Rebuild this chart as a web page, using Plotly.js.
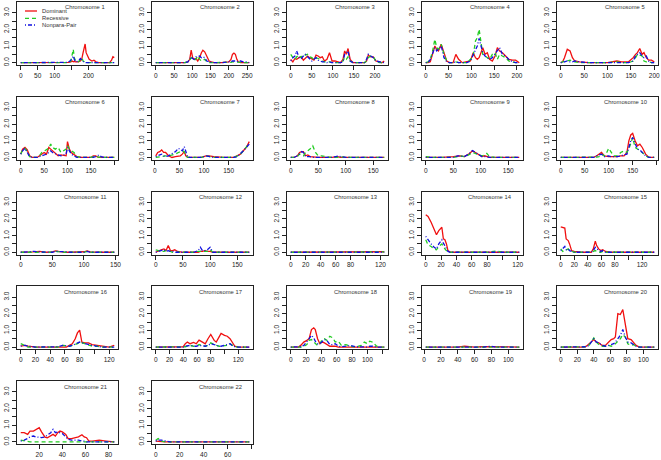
<!DOCTYPE html>
<html><head><meta charset="utf-8">
<script src="https://cdn.plot.ly/plotly-3.0.1.min.js"></script>
<style>html,body{margin:0;padding:0;background:#fff}#chart{width:661px;height:460px}</style>
</head><body><div id="chart"></div>
<script>
const seriesNames = ["Dominant", "Recessive", "Nonpara-Pair"];

const pos1 = [0,20,40,60,80,100,120,140,148,152,155,158,162,170,176,180,184,187,190,193,197,202,210,216,222,230,250,262,268,272,276];
const dom1 = [0,0,0,0,0,0,0,0.02,0.05,0.1,0.05,0.08,0.05,0.05,0.1,0.2,0.6,1.0,1.12,0.6,0.45,0.2,0.1,0.15,0.05,0,0,0,0.15,0.35,0.3];
const rec1 = [0,0,0,0,0,0,0,0,0.1,0.5,0.8,0.3,0.1,0.05,0.2,0.3,0.1,0.05,0,0,0,0,0,0,0,0,0,0,0,0,0];
const npp1 = [0,0,0.02,0,0,0.02,0,0.02,0.15,0.3,0.4,0.2,0.05,0.1,0.25,0.15,0.05,0.02,0,0.02,0,0,0,0,0,0,0,0,0,0,0];

const pos2 = [0,20,40,60,80,88,93,97,101,105,110,115,120,125,129,134,140,146,152,160,180,200,206,210,214,218,222,226,232,240,248,256];
const dom2 = [0,0,0,0,0,0.05,0.2,0.75,0.3,0.2,0.25,0.1,0.3,0.6,0.75,0.65,0.4,0.1,0.05,0,0,0.05,0.2,0.5,0.57,0.5,0.2,0.05,0,0,0,0];
const rec2 = [0,0,0,0,0,0.05,0.15,0.3,0.25,0.15,0.2,0.4,0.2,0.1,0.15,0.2,0.05,0,0,0,0,0,0.02,0.05,0.05,0.05,0.05,0.03,0.02,0,0,0];
const npp2 = [0,0,0.03,0,0,0.05,0.2,0.35,0.25,0.2,0.35,0.35,0.4,0.3,0.35,0.3,0.1,0.05,0.02,0,0,0.05,0.05,0.1,0.1,0.1,0.05,0.1,0.1,0.05,0.05,0];

const pos3 = [0,5,10,14,20,25,30,35,40,45,50,55,60,65,70,75,80,86,92,98,105,112,118,124,128,132,136,141,148,160,175,180,184,190,196,202,210,216,222];
const dom3 = [0.2,0.05,0.25,0.2,0.3,0.35,0.15,0.3,0.4,0.3,0.2,0.15,0.45,0.4,0.3,0.35,0.1,0.2,0.6,0.1,0.1,0.05,0,0.2,0.7,0.5,0.85,0.2,0,0,0,0.1,0.45,0.35,0.35,0.1,0.05,0,0.1];
const rec3 = [0.5,0.3,0.2,0.35,0.45,0.3,0.5,0.45,0.5,0.35,0.3,0.2,0.3,0.25,0.2,0.1,0.05,0.05,0.05,0,0,0,0,0.1,0.3,0.2,0.35,0.1,0,0,0,0.1,0.3,0.4,0.35,0.1,0,0,0];
const npp3 = [0.1,0.3,0.4,0.7,0.3,0.25,0.4,0.5,0.35,0.2,0.1,0.2,0.3,0.15,0.1,0.05,0.05,0,0.05,0,0,0,0,0.05,0.5,0.6,0.7,0.1,0,0,0,0.2,0.5,0.4,0.3,0.1,0.05,0,0];

const pos4 = [0,5,10,15,20,24,28,34,40,46,52,60,66,72,80,90,98,104,109,113,117,121,125,130,135,140,146,152,157,162,168,175,182,190,197,205];
const dom4 = [0,0,0.05,0.5,1.0,0.8,0.7,1.1,0.6,0.1,0,0,0.5,0.2,0,0.05,0.1,0.6,0.3,0.2,0.3,0.6,0.9,0.5,0.6,0.2,0.1,0.4,0.9,0.7,0.6,0.4,0.2,0.15,0.15,0];
const rec4 = [0,0.05,0.2,0.7,1.4,0.9,0.8,1.1,0.5,0.1,0,0,0.05,0,0,0,0.2,0.4,1.3,1.5,2.0,1.2,0.5,0.4,0.3,0.2,0.5,0.6,0.2,0.5,0.4,0.3,0.1,0.05,0,0];
const npp4 = [0,0,0.2,0.6,0.9,0.7,0.8,1.0,0.3,0.05,0,0,0.05,0,0,0,0.1,0.5,0.8,1.0,1.45,1.0,0.6,0.4,0.3,0.2,0.3,0.5,0.7,0.9,0.5,0.4,0.2,0.05,0,0];

const pos5 = [0,4,8,14,20,25,30,40,60,80,100,120,130,145,155,160,164,169,174,178,183,188,194,200];
const dom5 = [0,0.05,0.3,0.8,0.7,0.3,0.1,0.05,0,0,0,0.1,0.05,0.05,0.3,0.5,0.6,0.85,0.5,0.6,0.3,0.15,0.15,0.05];
const rec5 = [0,0.05,0.1,0.1,0.15,0.1,0.05,0,0,0,0,0.05,0,0,0.1,0.3,0.5,0.45,0.4,0.1,0.05,0.05,0,0];
const npp5 = [0,0,0.05,0.1,0.05,0.05,0.1,0.05,0,0,0,0,0,0,0.1,0.4,0.5,0.6,0.4,0.3,0.4,0.1,0,0];

const pos6 = [0,4,9,14,19,25,35,40,45,50,55,60,64,68,74,80,86,92,97,100,104,108,114,120,130,150,155,160,167,172,180,190,200];
const dom6 = [0.2,0.5,0.6,0.45,0.1,0,0,0.1,0.15,0.3,0.2,0.6,0.5,0.4,0.2,0.1,0.15,0.1,0.1,0.95,0.5,0.3,0.2,0.05,0,0,0.1,0.1,0,0,0,0,0];
const rec6 = [0.2,0.45,0.55,0.35,0.05,0,0,0.1,0.3,0.4,0.5,0.55,0.8,0.6,0.5,0.6,0.3,0.4,0.5,0.7,0.5,0.4,0.3,0.05,0,0,0.05,0.05,0,0,0,0,0];
const npp6 = [0.2,0.4,0.55,0.3,0.05,0,0,0.05,0.1,0.15,0.2,0.3,0.4,0.3,0.2,0.15,0.1,0.15,0.2,0.6,0.4,0.2,0.1,0,0,0,0,0.05,0.15,0.05,0,0,0];

const pos7 = [2,6,10,14,18,22,28,35,42,48,52,56,60,63,67,80,95,104,110,120,140,160,168,174,180,186,192];
const dom7 = [0.1,0.3,0.35,0.45,0.3,0.3,0.1,0,0.05,0.1,0.1,0.2,0.35,0.1,0,0,0,0.1,0.1,0.05,0,0,0.1,0.2,0.4,0.6,0.95];
const rec7 = [0,0.02,0.05,0.05,0.1,0.1,0.1,0.15,0.2,0.3,0.35,0.4,0.35,0.1,0,0,0,0.1,0.05,0,0,0,0.1,0.2,0.4,0.65,0.85];
const npp7 = [0.05,0.1,0.15,0.2,0.1,0.05,0.1,0.2,0.35,0.55,0.45,0.4,0.65,0.3,0,0,0,0.1,0.05,0,0,0,0.05,0.2,0.4,0.6,0.8];

const pos8 = [0,6,12,16,20,23,27,31,35,40,45,50,56,65,75,85,90,100,120,140,160,170];
const dom8 = [0,0,0.1,0.3,0.35,0.35,0.1,0.15,0.05,0.05,0.02,0,0,0,0,0.05,0,0,0,0,0,0];
const rec8 = [0,0,0.05,0.2,0.15,0.1,0.3,0.4,0.5,0.7,0.3,0.1,0.1,0.05,0,0,0.05,0,0,0,0,0];
const npp8 = [0,0,0.1,0.2,0.35,0.3,0.05,0.05,0.05,0,0,0,0,0,0,0.08,0.05,0,0,0,0,0];

const pos9 = [0,10,30,50,58,62,70,78,85,90,96,102,107,111,116,125,140,155,170];
const dom9 = [0,0,0,0.05,0.1,0.1,0.05,0.2,0.4,0.3,0.15,0.05,0.1,0.05,0,0,0,0,0];
const rec9 = [0.05,0,0,0,0.05,0.1,0.05,0.15,0.3,0.25,0.2,0.1,0.15,0.25,0.05,0,0,0,0];
const npp9 = [0,0,0,0,0.1,0.1,0.05,0.2,0.42,0.3,0.15,0.05,0.05,0.05,0,0,0,0.02,0];

const pos10 = [0,20,40,60,68,75,80,85,91,96,100,105,110,118,125,132,138,142,146,150,155,160,165,170,177,184,195];
const dom10 = [0,0,0,0,0,0.1,0.2,0.3,0.1,0.05,0.05,0.05,0.05,0.05,0.1,0.1,0.3,1.0,1.35,1.45,1.0,0.7,0.8,0.6,0.2,0,0];
const rec10 = [0,0,0,0,0,0.02,0.05,0.2,0.1,0.3,0.55,0.3,0.1,0.1,0.3,0.4,0.3,0.5,0.9,1.2,0.6,0.5,0.35,0.3,0.1,0,0];
const npp10 = [0,0,0,0,0,0.1,0.15,0.2,0.05,0.1,0.1,0.05,0.05,0.05,0.1,0.15,0.2,0.6,1.0,1.2,0.9,0.5,0.45,0.3,0.1,0,0];

const pos11 = [0,10,20,30,40,50,55,60,70,80,90,100,105,110,120,130,140,148];
const dom11 = [0,0,0.02,0.05,0,0.02,0.08,0.05,0,0,0,0.03,0.08,0.02,0,0,0,0];
const rec11 = [0,0,0,0.03,0,0,0.05,0.02,0,0,0,0,0.05,0,0,0,0,0];
const npp11 = [0,0.02,0.05,0.02,0,0,0.05,0.05,0.03,0,0,0,0.05,0,0,0,0,0];

const pos12 = [0,5,10,15,19,23,27,31,35,40,50,60,70,78,82,86,90,95,100,105,110,130,150,172];
const dom12 = [0,0.1,0.15,0.2,0.1,0.4,0.1,0.1,0.15,0.05,0,0,0,0,0.05,0.05,0.1,0.05,0.05,0,0,0,0,0];
const rec12 = [0.15,0.1,0.05,0.05,0.1,0.05,0.05,0,0,0,0,0,0,0.05,0.05,0.05,0.05,0.05,0.15,0,0,0,0,0];
const npp12 = [0,0.05,0.1,0.15,0.05,0.1,0.05,0.05,0,0,0,0,0,0.1,0.3,0.1,0.1,0.15,0.3,0,0,0,0,0];

const pos13 = [0,10,20,30,40,50,60,70,78,82,86,90,100,110,125];
const dom13 = [0,0,0.02,0,0,0,0,0,0,0,0,0,0,0,0.03];
const rec13 = [0,0,0,0,0,0,0,0,0,0,0,0,0,0,0.02];
const npp13 = [0,0.02,0,0,0,0,0,0,0.03,0,0,0,0,0,0];

const pos14 = [0,3,7,11,14,17,21,23,25,27,29,32,40,60,80,93,100,110,122];
const dom14 = [2.25,2.15,1.8,1.4,1.05,1.3,1.5,0.8,0.75,0.5,0.1,0,0,0,0,0,0,0,0];
const rec14 = [0.75,0.45,0.35,0.2,0.15,0.35,0.5,0.3,0.2,0.1,0.05,0,0,0,0,0.08,0,0,0];
const npp14 = [0.95,0.75,0.5,0.3,0.2,0.5,0.75,0.55,0.4,0.2,0.05,0,0,0,0,0,0,0.02,0];

const pos15 = [0,3,6,8,11,13,16,20,30,40,45,48,51,53,56,59,62,66,75,90,110,125,138];
const dom15 = [1.53,1.5,1.45,0.8,0.7,0.5,0.1,0.05,0,0,0,0.2,0.67,0.4,0.2,0.1,0.15,0.05,0,0,0,0,0];
const rec15 = [0.2,0.05,0.1,0.15,0.2,0.1,0.05,0,0,0,0,0.05,0.1,0.05,0,0,0.05,0,0,0,0,0,0];
const npp15 = [0.1,0.25,0.35,0.15,0.2,0.1,0.05,0,0,0,0,0.1,0.3,0.2,0.15,0.05,0.1,0,0,0,0,0,0];

const pos16 = [0,3,6,10,20,30,42,50,57,62,66,70,74,77,80,83,87,92,97,103,110,120,127];
const dom16 = [0.05,0.08,0.1,0.05,0,0,0,0,0,0,0.1,0.2,0.5,0.85,1.02,0.3,0.25,0.25,0.15,0.1,0.05,0,0.1];
const rec16 = [0.2,0.15,0.05,0,0,0,0,0,0.1,0.05,0.05,0.1,0.15,0.2,0.3,0.25,0.2,0.1,0.05,0.05,0,0,0];
const npp16 = [0.05,0.1,0.1,0.05,0,0,0,0.02,0.1,0.05,0.05,0.1,0.2,0.25,0.3,0.25,0.2,0.15,0.1,0.05,0,0,0];

const pos17 = [0,10,20,30,40,43,46,50,55,59,63,68,72,76,80,85,88,92,95,100,104,108,111,115,120,128,136];
const dom17 = [0,0,0,0,0.02,0.2,0.3,0.2,0.28,0.2,0.42,0.3,0.2,0.5,0.76,0.4,0.3,0.6,0.82,0.7,0.65,0.5,0.3,0.05,0,0,0];
const rec17 = [0,0,0,0,0,0.02,0.05,0.1,0.05,0.05,0.15,0.1,0.05,0.1,0.25,0.15,0.1,0.05,0.05,0.1,0.1,0.2,0.1,0.02,0,0,0];
const npp17 = [0,0,0,0,0,0.05,0.08,0.1,0.05,0.05,0.1,0.08,0.05,0.1,0.2,0.15,0.1,0.05,0.05,0.1,0.15,0.2,0.1,0.02,0,0,0];

const pos18 = [0,5,10,13,17,21,24,27,30,32,35,38,41,44,47,51,55,58,62,66,72,78,85,92,96,100,103,107,112,117,122];
const dom18 = [0,0,0,0.1,0.3,0.4,0.5,1.05,1.15,1.05,0.5,0.2,0.3,0.25,0.15,0.05,0.05,0.05,0,0,0.02,0,0,0,0,0,0,0.02,0,0,0];
const rec18 = [0,0,0,0,0.05,0.15,0.4,0.45,0.3,0.2,0.1,0.2,0.45,0.5,0.4,0.65,0.55,0.3,0.35,0.1,0.15,0.05,0,0.1,0.3,0.2,0.35,0.3,0.05,0,0];
const npp18 = [0,0,0,0.02,0.1,0.3,0.5,0.7,0.55,0.35,0.2,0.2,0.3,0.45,0.4,0.15,0.15,0.2,0.05,0.02,0.05,0.1,0.02,0,0,0,0.05,0.05,0,0,0];

const pos19 = [2,10,20,30,40,48,55,60,70,80,85,90,100,110,113];
const dom19 = [0,0,0,0.02,0,0.05,0,0,0.03,0.03,0,0,0,0,0];
const rec19 = [0,0,0,0.02,0,0,0,0,0.03,0.02,0,0,0,0,0];
const npp19 = [0,0,0,0,0,0.03,0,0,0,0.05,0,0,0,0,0];

const pos20 = [0,10,20,28,31,34,37,40,43,46,50,54,58,61,64,66,69,72,75,78,81,85,88,91,95,100,107,113];
const dom20 = [0,0,0,0,0.05,0.2,0.3,0.45,0.3,0.25,0.1,0.1,0.3,0.45,0.5,0.6,2.0,1.95,2.25,1.3,0.5,0.45,0.3,0.1,0,0,0,0];
const rec20 = [0,0,0,0,0.02,0.1,0.3,0.55,0.3,0.15,0.05,0.05,0.1,0.05,0.1,0.2,0.3,0.5,0.75,0.6,0.2,0.1,0.15,0.05,0,0,0,0];
const npp20 = [0,0,0,0,0.02,0.1,0.3,0.5,0.3,0.25,0.1,0.05,0.1,0.15,0.2,0.3,0.5,0.7,1.05,0.6,0.3,0.25,0.15,0.05,0,0,0,0];

const pos21 = [4,7,10,12,15,17,20,22,25,27,30,32,34,36,38,40,43,45,48,51,54,57,59,61,63,66,72,78,85];
const dom21 = [0.55,0.55,0.45,0.65,0.65,0.75,0.85,0.6,0.28,0.25,0.35,0.45,0.35,0.55,0.65,0.6,0.45,0.2,0.2,0.25,0.3,0.43,0.3,0.25,0.05,0.05,0.1,0.05,0];
const rec21 = [0.1,0.05,0,0,0,0,0,0,0,0,0,0,0,0,0,0,0,0,0,0,0,0,0,0,0,0,0,0,0];
const npp21 = [0.05,0.1,0.2,0.3,0.35,0.3,0.28,0.25,0.3,0.4,0.55,0.75,0.55,0.6,0.55,0.5,0.3,0.15,0.1,0.1,0.1,0.05,0.05,0,0,0,0,0,0];

const pos22 = [0,2,5,8,12,20,30,40,45,50,60,65,70,78];
const dom22 = [0.05,0.05,0.02,0,0,0,0,0,0,0,0,0.03,0,0];
const rec22 = [0.1,0.2,0.05,0,0,0,0,0,0,0,0,0,0,0];
const npp22 = [0.05,0.1,0.1,0.05,0,0,0,0,0,0,0,0,0,0];

const positions = [pos1,pos2,pos3,pos4,pos5,pos6,pos7,pos8,pos9,pos10,pos11,pos12,pos13,pos14,pos15,pos16,pos17,pos18,pos19,pos20,pos21,pos22];
const dominant = [dom1,dom2,dom3,dom4,dom5,dom6,dom7,dom8,dom9,dom10,dom11,dom12,dom13,dom14,dom15,dom16,dom17,dom18,dom19,dom20,dom21,dom22];
const recessive = [rec1,rec2,rec3,rec4,rec5,rec6,rec7,rec8,rec9,rec10,rec11,rec12,rec13,rec14,rec15,rec16,rec17,rec18,rec19,rec20,rec21,rec22];
const nonpara = [npp1,npp2,npp3,npp4,npp5,npp6,npp7,npp8,npp9,npp10,npp11,npp12,npp13,npp14,npp15,npp16,npp17,npp18,npp19,npp20,npp21,npp22];

const t50 = [0,50,100,150,200,250];
const t20 = [0,20,40,60,80,100,120];
const xTickVals = [t50,t50,t50,t50,t50,t50,t50,t50,t50,t50,t50,t50,t20,t20,t20,t20,t20,t20,t20,t20,t20,t20];
const xTickText = [
  ["0","50","100","","200",""],
  ["0","50","100","150","200","250"],
  ["0","50","100","150","200","250"],
  ["0","50","100","150","200","250"],
  ["0","50","100","150","200","250"],
  ["0","50","100","150","",""],
  ["0","50","100","150","",""],
  ["0","50","100","150","",""],
  ["0","50","100","150","",""],
  ["0","50","100","150","",""],
  ["0","50","100","150","",""],
  ["0","50","100","150","",""],
  ["0","20","40","60","80","","120"],
  ["0","20","40","60","80","","120"],
  ["0","20","40","60","80","","120"],
  ["0","20","40","60","80","","120"],
  ["0","20","40","60","80","","120"],
  ["0","20","40","60","80","100",""],
  ["0","20","40","60","80","100",""],
  ["0","20","40","60","80","100",""],
  ["0","20","40","60","80","",""],
  ["0","20","40","60","","",""]
];
const yTickVals = [0,0.5,1,1.5,2,2.5,3];
const yTickText = ["0.0","","1.0","","2.0","","3.0"];

const colors = ["#f01010", "#22cc22", "#1010e0"];
const dashes = ["solid", "4px,3px", "1px,2px,4px,2px"];
const FONT = "Liberation Sans, Arial, sans-serif";
const W = 661, H = 460;
const colLeft = 17, colStep = 135, boxW = 101, rowTop = 2, rowStep = 94.8, boxH = 63;

const data = [];
const layout = {
  width: W, height: H, margin: {l:0, r:0, t:0, b:0},
  paper_bgcolor: "#fff", plot_bgcolor: "#fff",
  showlegend: false, font: {family: FONT, size: 6, color: "#222"},
  annotations: [], shapes: []
};
const allSeries = [dominant, recessive, nonpara];

for (let i = 0; i < 22; i++) {
  const c = i % 5, r = Math.floor(i / 5);
  const sfx = i === 0 ? "" : String(i + 1);
  const left = colLeft + colStep * c, top = rowTop + rowStep * r;
  const xs = positions[i];
  const mn = Math.min(...xs), mx = Math.max(...xs), ext = (mx - mn) * 0.04;
  layout["xaxis" + sfx] = {
    domain: [left / W, (left + boxW) / W], range: [mn - ext, mx + ext],
    anchor: "y" + sfx, showline: true, mirror: true, linecolor: "#222", linewidth: 1,
    ticks: "outside", ticklen: 4, tickwidth: 1, tickcolor: "#222",
    tickmode: "array", tickvals: xTickVals[i], ticktext: xTickText[i],
    tickfont: {family: FONT, size: 6.5, color: "#222"},
    showgrid: false, zeroline: false, fixedrange: true
  };
  layout["yaxis" + sfx] = {
    domain: [1 - (top + boxH) / H, 1 - top / H], range: [-0.14, 3.64],
    anchor: "x" + sfx, showline: true, mirror: true, linecolor: "#222", linewidth: 1,
    ticks: "outside", ticklen: 4, tickwidth: 1, tickcolor: "#222",
    tickmode: "array", tickvals: yTickVals, ticktext: yTickText, tickangle: -90,
    tickfont: {family: FONT, size: 6.5, color: "#222"},
    showgrid: false, zeroline: false, fixedrange: true
  };
  for (let s = 0; s < 3; s++) {
    data.push({
      type: "scatter", mode: "lines", x: xs, y: allSeries[s][i],
      xaxis: "x" + sfx, yaxis: "y" + sfx, name: seriesNames[s],
      line: {color: colors[s], width: 1.3, dash: dashes[s]},
      hoverinfo: "skip", showlegend: false
    });
  }
  layout.annotations.push({
    text: "Chromosome " + (i + 1), xref: "x" + sfx + " domain", yref: "y" + sfx + " domain",
    x: 0.675, y: 0.915, xanchor: "center", yanchor: "middle", showarrow: false,
    font: {family: FONT, size: 5.8, color: "#333"}
  });
}

// legend (inside Chromosome 1 panel, top-left)
const legY = [11, 18.3, 25];
for (let s = 0; s < 3; s++) {
  layout.shapes.push({
    type: "line", xref: "paper", yref: "paper",
    x0: 25 / W, x1: 37 / W, y0: 1 - legY[s] / H, y1: 1 - legY[s] / H,
    line: {color: colors[s], width: 1.3, dash: dashes[s]}
  });
  layout.annotations.push({
    text: seriesNames[s], xref: "paper", yref: "paper",
    x: 40 / W, y: 1 - legY[s] / H, xanchor: "left", yanchor: "middle", showarrow: false,
    font: {family: FONT, size: 5.8, color: "#333"}
  });
}

Plotly.newPlot("chart", data, layout, {staticPlot: true, displayModeBar: false});
</script>
</body></html>
